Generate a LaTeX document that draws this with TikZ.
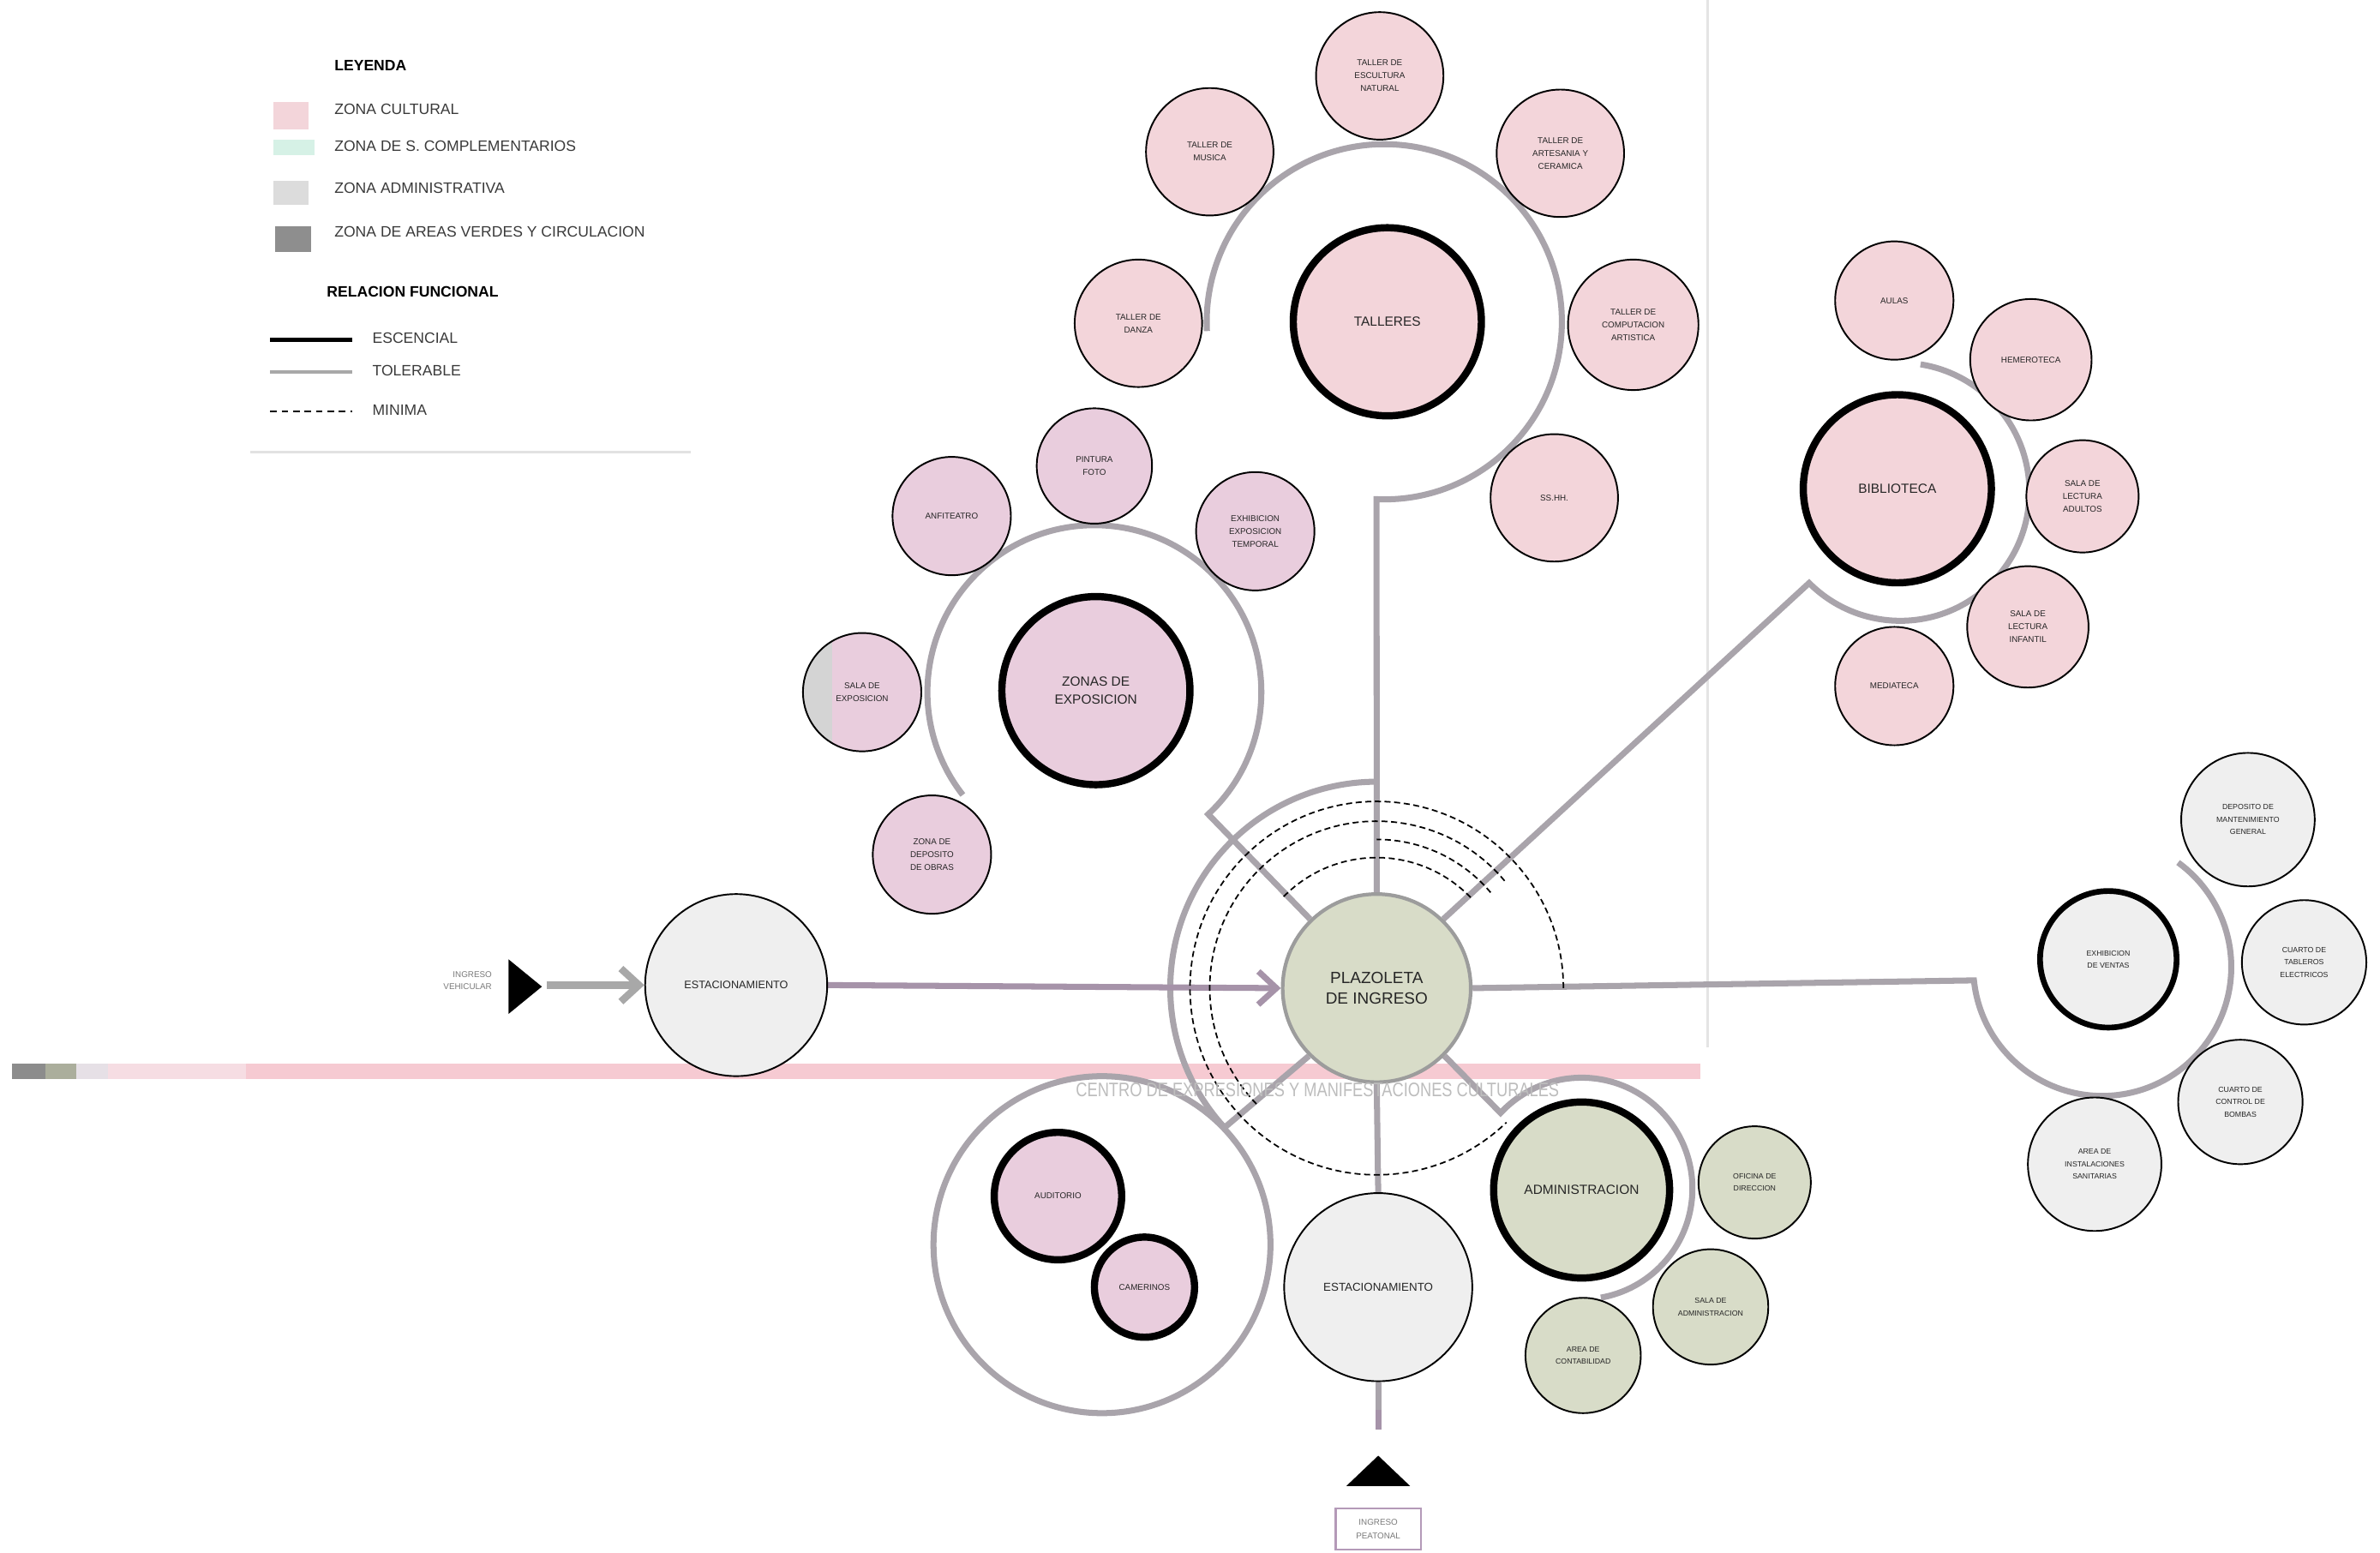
\documentclass[tikz,border=0pt]{standalone}
\usepackage{fontspec}
\setmainfont{Liberation Sans}
\usetikzlibrary{calc,arrows.meta}
\pgfdeclarelayer{bgzero}
\pgfdeclarelayer{bgone}
\pgfsetlayers{bgzero,bgone,main}
\definecolor{pinkT}{HTML}{F3D5DA}
\definecolor{mauve}{HTML}{E9CDDD}
\definecolor{greenA}{HTML}{D8DCC8}
\definecolor{greyS}{HTML}{EFEFEF}
\definecolor{ringc}{HTML}{A9A4AB}
\definecolor{linkc}{HTML}{A693A9}
\definecolor{bandp}{HTML}{F6CAD2}
\definecolor{bandl}{HTML}{F6DDE3}
\definecolor{legtxt}{HTML}{3A3A3A}
\definecolor{boxc}{HTML}{B49AB8}
\definecolor{bandA}{HTML}{8C8C8C}
\definecolor{bandB}{HTML}{ABAE9C}
\definecolor{bandC}{HTML}{E6E0E6}
\definecolor{vline}{HTML}{E4E4E4}
\definecolor{swMint}{HTML}{D6F1E6}
\definecolor{swGrey}{HTML}{DCDCDC}
\definecolor{swDark}{HTML}{8E8E8E}
\definecolor{tolc}{HTML}{A8A8A8}
\definecolor{sepc}{HTML}{E2E2E2}
\definecolor{plborder}{HTML}{9C9C9C}
\definecolor{expgrey}{HTML}{D4D4D4}
\definecolor{entxt}{HTML}{7A7A7A}
\definecolor{cttxt}{HTML}{BDBDBD}
\tikzset{
  cir/.style={circle, inner sep=0pt, minimum size=#1*0.03542cm, align=center, text=black!85},
  satfont/.style={font=\fontsize{2.8}{4.3}\selectfont},
  smallfont/.style={font=\fontsize{2.5}{4.1}\selectfont},
  bigfont/.style={font=\fontsize{4.4}{6}\selectfont},
  thin/.style={draw=black, line width=0.55pt},
  thick/.style={draw=black, line width=2.4pt},
  ring/.style={draw=ringc, line width=2pt},
  link/.style={draw=linkc, line width=2pt},
  mini/.style={draw=black, line width=0.5pt, dash pattern=on 2pt off 1.2pt},
  legtext/.style={anchor=west, inner sep=0pt, text=legtxt, font=\fontsize{5}{6}\selectfont},
  legbold/.style={anchor=west, inner sep=0pt, text=black, font=\bfseries\fontsize{5}{6}\selectfont},
}
\begin{document}
\begin{tikzpicture}[x=0.01771cm, y=0.01771cm]
\useasboundingbox (0,0) rectangle (1568,1023);
\begin{pgfonlayer}{bgzero}
  \fill[white] (0,0) rectangle (1568,1023);
  \fill[bandA] (8,312) rectangle (30,322);
  \fill[bandB] (30,312) rectangle (50,322);
  \fill[bandC] (50,312) rectangle (71,322);
  \fill[bandl] (71,312) rectangle (162,322);
  \fill[bandp] (162,312) rectangle (1120,322);
  \draw[vline, line width=0.6pt] (1125,333) -- (1125,1023);
\end{pgfonlayer}

% ---------------- legend
\node[legbold] (lgA) at (220,980) {LEYENDA};
\fill[pinkT] (180,938) rectangle (203,956);
\fill[swMint] (180,921) rectangle (207,931);
\fill[swGrey] (180,888) rectangle (203,904);
\fill[swDark] (181,857) rectangle (205,874);
\node[legtext] (lg1) at (220,951) {ZONA CULTURAL};
\node[legtext] (lg2) at (220,927) {ZONA DE S. COMPLEMENTARIOS};
\node[legtext] (lg3) at (220,899) {ZONA ADMINISTRATIVA};
\node[legtext] (lg4) at (220,870) {ZONA DE AREAS VERDES Y CIRCULACION};
\node[legbold] (lgB) at (215,831) {RELACION FUNCIONAL};
\draw[black, line width=1.3pt] (178,799) -- (232,799);
\draw[tolc, line width=1.3pt] (178,778) -- (232,778);
\draw[black, line width=0.6pt, dash pattern=on 2.2pt off 1.6pt] (178,752) -- (232,752);
\node[legtext] (lg5) at (245,800) {ESCENCIAL};
\node[legtext] (lg6) at (245,779) {TOLERABLE};
\node[legtext] (lg7) at (245,753) {MINIMA};
\draw[sepc, line width=0.8pt] (165,725) -- (455,725);

% ---------------- central nodes
\node[cir=62, fill=greenA, draw=plborder, line width=1.2pt, font=\fontsize{5.4}{6.6}\selectfont] (PL) at (907,372) {PLAZOLETA\\DE INGRESO};
\node[cir=62, fill=pinkT, thick, bigfont] (TA) at (914,811) {TALLERES};
\node[cir=62, fill=mauve, thick, bigfont] (EX) at (722,568) {ZONAS DE\\EXPOSICION};
\node[cir=62, fill=pinkT, thick, bigfont] (BI) at (1250,701) {BIBLIOTECA};
\node[cir=45, fill=greyS, draw=black, line width=1.9pt, smallfont] (SV) at (1389,391) {EXHIBICION\\DE VENTAS};
\node[cir=58, fill=greenA, thick, bigfont] (AD) at (1042,239) {ADMINISTRACION};
\node[cir=42, fill=mauve, thick, satfont] (AUD) at (697,235) {AUDITORIO};
\node[cir=33, fill=mauve, thick, satfont] (CAM) at (754,175) {CAMERINOS};
\node[cir=62, fill=greyS, thin, font=\fontsize{3.8}{5}\selectfont] (ES1) at (908,175) {ESTACIONAMIENTO};
\node[cir=60, fill=greyS, thin, font=\fontsize{3.6}{5}\selectfont] (ES2) at (485,374) {ESTACIONAMIENTO};

% ---------------- talleres satellites
\node[cir=42, fill=pinkT, thin, satfont] (T1) at (909,973) {TALLER DE\\ESCULTURA\\NATURAL};
\node[cir=42, fill=pinkT, thin, satfont] (T2) at (797,923) {TALLER DE\\MUSICA};
\node[cir=42, fill=pinkT, thin, satfont] (T3) at (1028,922) {TALLER DE\\ARTESANIA Y\\CERAMICA};
\node[cir=42, fill=pinkT, thin, satfont] (T4) at (750,810) {TALLER DE\\DANZA};
\node[cir=43, fill=pinkT, thin, satfont] (T5) at (1076,809) {TALLER DE\\COMPUTACION\\ARTISTICA};
\node[cir=42, fill=pinkT, thin, satfont] (T6) at (1024,695) {SS.HH.};

% ---------------- exposicion satellites
\node[cir=39, fill=mauve, thin, satfont] (E1) at (627,683) {ANFITEATRO};
\node[cir=38, fill=mauve, thin, satfont] (E2) at (721,716) {PINTURA\\FOTO};
\node[cir=39, fill=mauve, thin, satfont] (E3) at (827,673) {EXHIBICION\\EXPOSICION\\TEMPORAL};
\node[cir=39, fill=mauve, thin, satfont,
  path picture={\fill[expgrey] (path picture bounding box.south west) rectangle ($(path picture bounding box.north west)+(19,0)$);}] (E4) at (568,567) {SALA DE\\EXPOSICION};
\node[cir=39, fill=mauve, thin, satfont] (E5) at (614,460) {ZONA DE\\DEPOSITO\\DE OBRAS};

% ---------------- biblioteca satellites
\node[cir=39, fill=pinkT, thin, satfont] (B1) at (1248,825) {AULAS};
\node[cir=40, fill=pinkT, thin, satfont] (B2) at (1338,786) {HEMEROTECA};
\node[cir=37, fill=pinkT, thin, satfont] (B3) at (1372,696) {SALA DE\\LECTURA\\ADULTOS};
\node[cir=40, fill=pinkT, thin, satfont] (B4) at (1336,610) {SALA DE\\LECTURA\\INFANTIL};
\node[cir=39, fill=pinkT, thin, satfont] (B5) at (1248,571) {MEDIATECA};

% ---------------- services satellites
\node[cir=44, fill=greyS, thin, smallfont] (S1) at (1481,483) {DEPOSITO DE\\MANTENIMIENTO\\GENERAL};
\node[cir=41, fill=greyS, thin, smallfont] (S2) at (1518,389) {CUARTO DE\\TABLEROS\\ELECTRICOS};
\node[cir=41, fill=greyS, thin, smallfont] (S3) at (1476,297) {CUARTO DE\\CONTROL DE\\BOMBAS};
\node[cir=44, fill=greyS, thin, smallfont] (S4) at (1380,256) {AREA DE\\INSTALACIONES\\SANITARIAS};

% ---------------- administracion satellites
\node[cir=37, fill=greenA, thin, smallfont] (A1) at (1156,244) {OFICINA DE\\DIRECCION};
\node[cir=38, fill=greenA, thin, smallfont] (A2) at (1127,162) {SALA DE\\ADMINISTRACION};
\node[cir=38, fill=greenA, thin, smallfont] (A3) at (1043,130) {AREA DE\\CONTABILIDAD};

% ---------------- entries
\fill[black] (335,391) -- (357,373) -- (335,355) -- cycle;
\coordinate (VT) at (360,374);
\node[anchor=east, align=right, text=entxt, font=\fontsize{2.8}{4.2}\selectfont] (IV) at (331,377) {INGRESO\\VEHICULAR};
\fill[black] (908,64) -- (929,44) -- (887,44) -- cycle;
\node[draw=boxc, line width=0.6pt, minimum width=56*0.01771cm, minimum height=27*0.01771cm, inner sep=0pt, align=center, text=entxt, font=\fontsize{2.8}{4.4}\selectfont] (IP) at (908,15.5) {INGRESO\\PEATONAL};
\coordinate (PEe) at (908,94);
\coordinate (PEf) at (908,81);

\node[text=cttxt, font=\fontsize{6.5}{7}\selectfont] (CT) at (868,305) {\scalebox{0.8}[1]{CENTRO DE EXPRESIONES Y MANIFESTACIONES CULTURALES}};

% ---------------- rings and connectors
\coordinate (TAc) at (912,811);
\coordinate (EXc) at (721,567);
\coordinate (BIc) at (1252,699);
\coordinate (SVc) at (1385,386);
\coordinate (ADc) at (1042,240);
\coordinate (AUc) at (726,203);
\coordinate (TAs) at ($(TAc)+(-92.5:117)$);
\coordinate (EXs) at ($(EXc)+(-47:110)$);
\coordinate (BIs) at ($(BIc)+(-135:85)$);
\coordinate (SVs) at ($(SVc)+(-174:85)$);
\coordinate (ADs) at ($(ADc)+(137:73)$);
\coordinate (AUv) at ($(PL.center)+(222.5:136)$);
\begin{pgfonlayer}{bgone}
  \draw[ring] (PL.north) -- (TAs) arc[start angle=-92.5, end angle=183, radius=117];
  \draw[ring] (PL.134) -- (EXs) arc[start angle=-47, end angle=218, radius=110];
  \draw[ring] (PL.46) -- (BIs) arc[start angle=-135, end angle=81, radius=85];
  \draw[ring] (PL.east) -- (SVs) arc[start angle=-174, end angle=54, radius=85];
  \draw[ring] (PL.-45) -- (ADs) arc[start angle=137, end angle=-80, radius=73];
  \draw[ring] (AUc) circle[radius=111];
  \draw[ring] (PL.225) -- (AUv) arc[start angle=222.5, end angle=90, radius=136];
  \draw[ring] (PL.south) -- (ES1.north);
  \draw[ring] (ES1.south) -- (PEe);
  \draw[link] (PEe) -- (PEf);
  \draw[link, -{Straight Barb[length=6pt, width=11pt]}] (ES2.east) -- (PL.west);
  \draw[tolc, line width=2.4pt, -{Straight Barb[length=6pt, width=11pt]}] (VT) -- (ES2.west);
  \draw[mini] ($(PL.center)+(0:123)$) arc[start angle=0, end angle=314, radius=123];
  \draw[mini] ($(PL.center)+(40:110)$) arc[start angle=40, end angle=225, radius=110];
  \draw[mini] ($(PL.center)+(40:98)$) arc[start angle=40, end angle=90, radius=98];
  \draw[mini] ($(PL.center)+(44:86)$) arc[start angle=44, end angle=137, radius=86];
\end{pgfonlayer}
\end{tikzpicture}
\end{document}
